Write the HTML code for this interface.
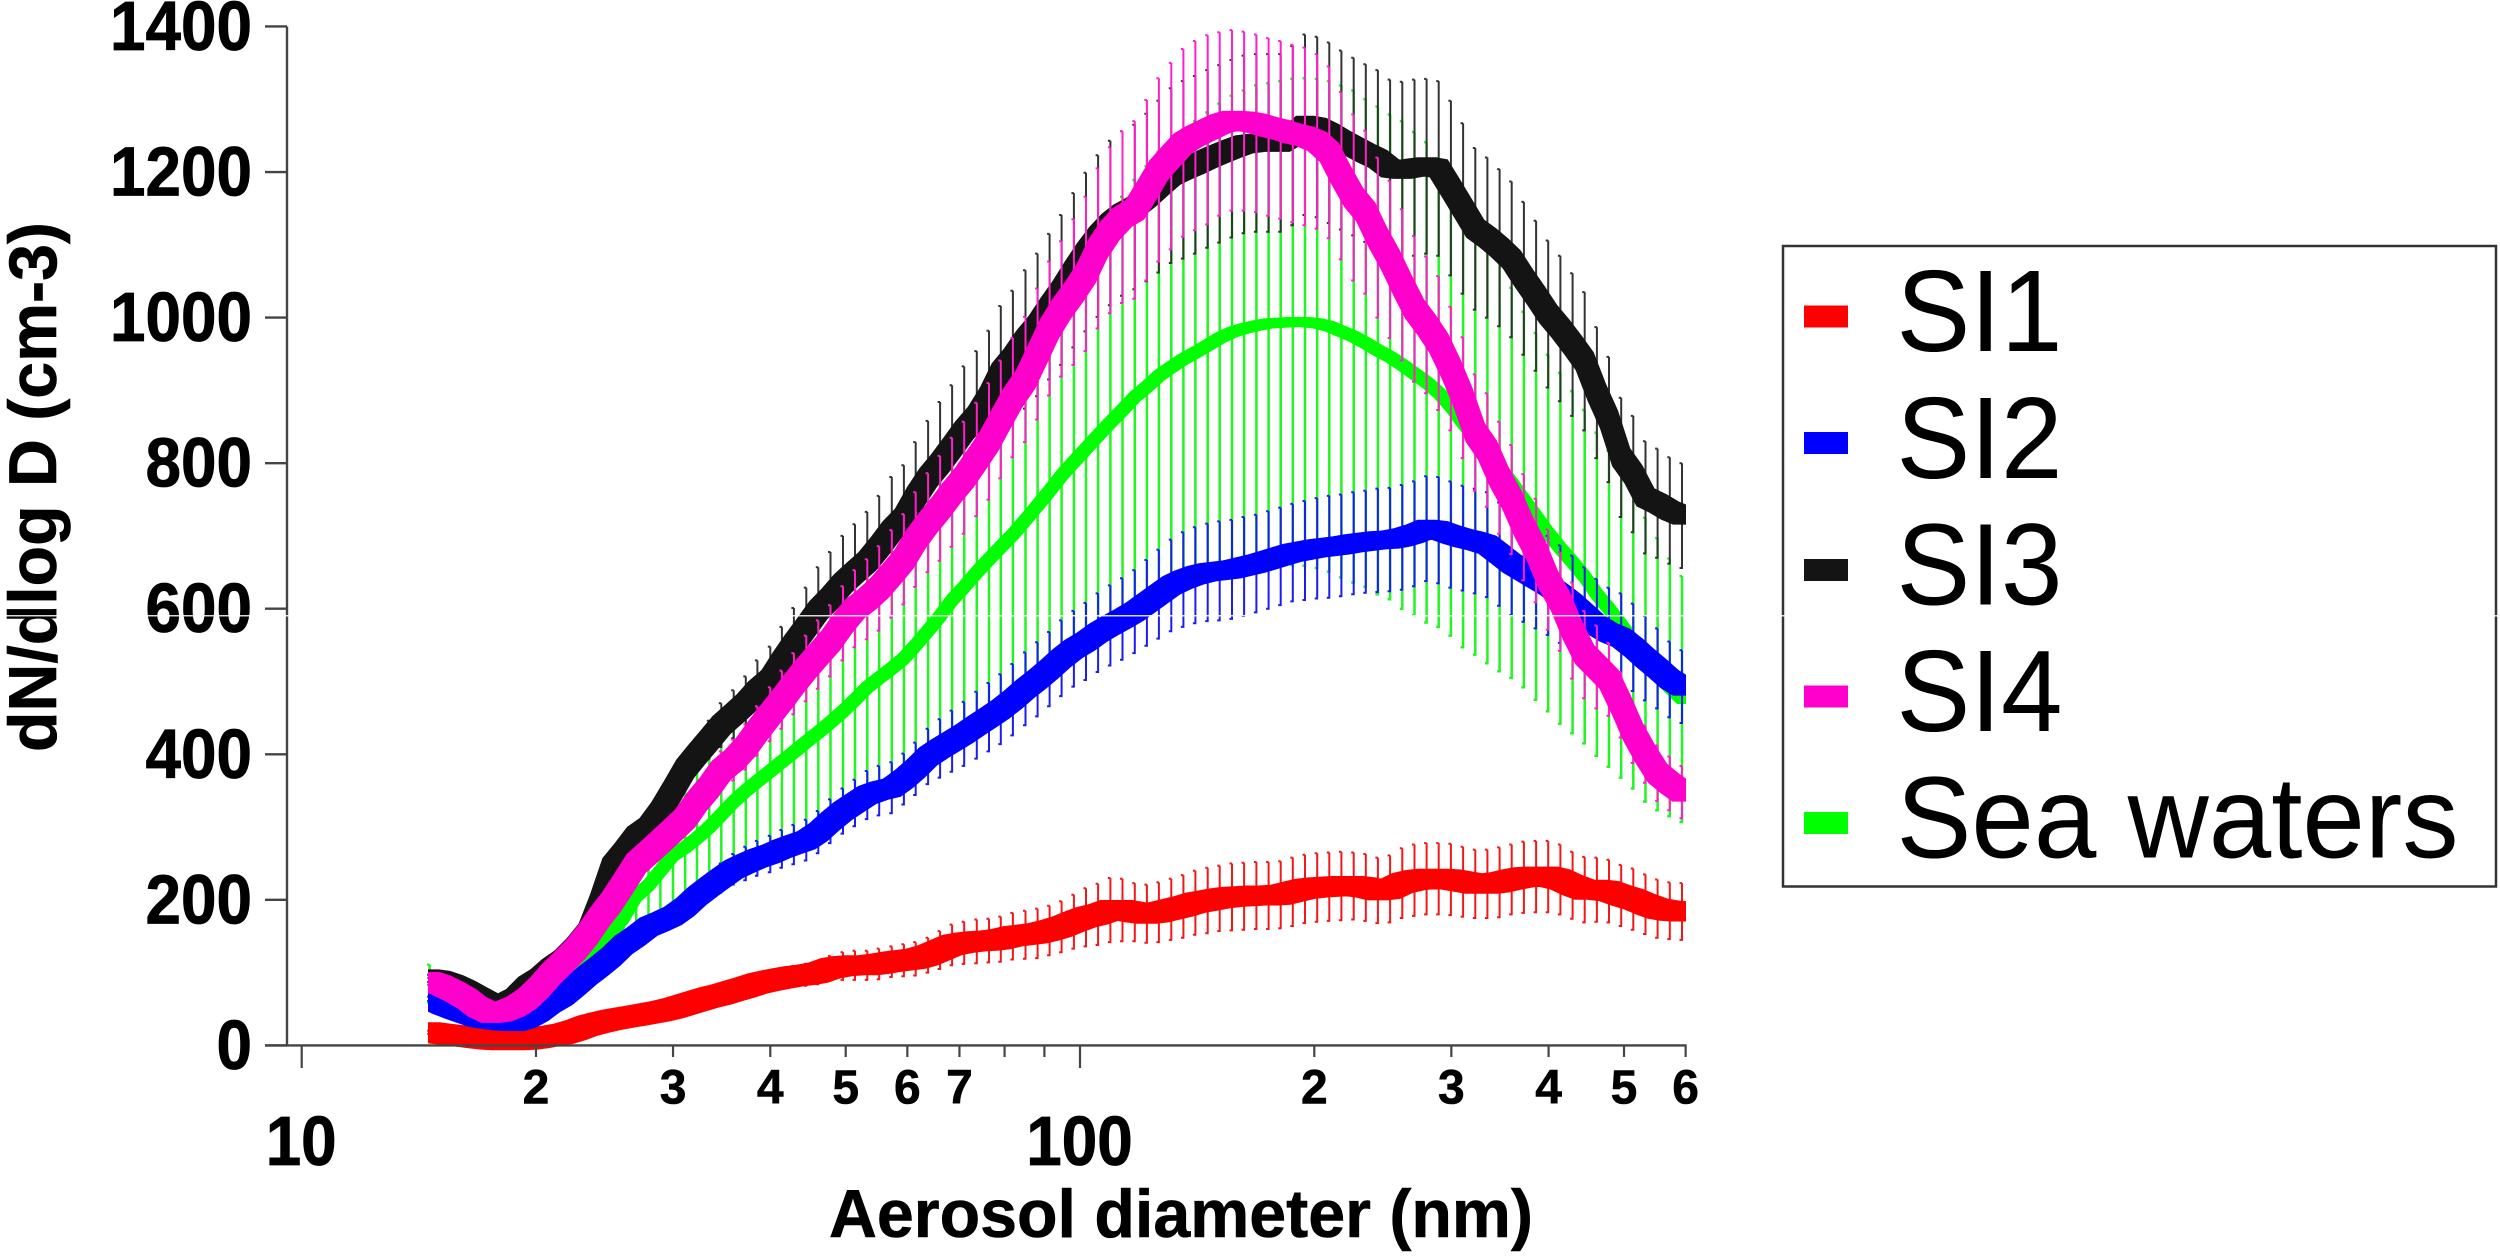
<!DOCTYPE html>
<html lang="en">
<head>
<meta charset="utf-8">
<title>Aerosol size distribution</title>
<style>
html,body{margin:0;padding:0;background:#fff;}
svg{display:block;}
text{font-family:"Liberation Sans",sans-serif;fill:#000;}
</style>
</head>
<body>
<svg id="chart" xmlns="http://www.w3.org/2000/svg" width="2500" height="1257" viewBox="0 0 2500 1257">
  <defs>
    <clipPath id="line-clip"><rect x="428" y="0" width="1258" height="1257"/></clipPath>
  </defs>
  <rect x="0" y="0" width="2500" height="1257" fill="#fff"/>
  <g id="series"></g>
  <g id="axes"></g>
  <text transform="translate(56,487) rotate(-90)" text-anchor="middle" font-weight="700" font-size="68" textLength="530" lengthAdjust="spacingAndGlyphs" stroke="#000" stroke-width="0.6">dN/dlog D (cm-3)</text>
  <text x="1181" y="1237" text-anchor="middle" font-weight="700" font-size="68" textLength="704" lengthAdjust="spacingAndGlyphs" stroke="#000" stroke-width="0.6">Aerosol diameter (nm)</text>
  <g>
    <rect x="1783" y="246" width="713" height="640.5" fill="#fff" stroke="#333" stroke-width="2.5"/>
    <rect x="1804" y="305.5" width="44" height="22" fill="#ff0000"/>
    <text x="1896.5" y="351" font-size="116" textLength="166" lengthAdjust="spacingAndGlyphs">SI1</text>
    <rect x="1804" y="432" width="44" height="22" fill="#0000ff"/>
    <text x="1896.5" y="478" font-size="116" textLength="166" lengthAdjust="spacingAndGlyphs">SI2</text>
    <rect x="1804" y="559" width="44" height="22" fill="#141414"/>
    <text x="1896.5" y="604.5" font-size="116" textLength="166" lengthAdjust="spacingAndGlyphs">SI3</text>
    <rect x="1804" y="685.5" width="44" height="22" fill="#ff00cc"/>
    <text x="1896.5" y="731" font-size="116" textLength="166" lengthAdjust="spacingAndGlyphs">SI4</text>
    <rect x="1804" y="812" width="44" height="22" fill="#00ff00"/>
    <text x="1896.5" y="857.5" font-size="116" textLength="562" lengthAdjust="spacingAndGlyphs">Sea waters</text>
  </g>
  <rect x="0" y="615" width="2500" height="1.5" fill="#fff" opacity="0.85"/>
</svg>
<script>
const diameters = [
14.6,15.1,15.7,16.3,16.8,17.5,18.1,18.8,19.5,20.2,
20.9,21.7,22.5,23.3,24.1,25.0,25.9,26.9,27.9,28.9,
30.0,31.1,32.2,33.4,34.6,35.9,37.2,38.5,40.0,41.4,
42.9,44.5,46.1,47.8,49.6,51.4,53.3,55.2,57.3,59.4,
61.5,63.8,66.1,68.5,71.0,73.7,76.4,79.1,82.0,85.1,
88.2,91.4,94.7,98.2,101.8,105.5,109.4,113.4,117.6,121.9,
126.3,131.0,135.8,140.7,145.9,151.2,156.8,162.5,168.5,174.7,
181.1,187.7,194.6,201.7,209.1,216.7,224.7,232.9,241.4,250.3,
259.5,269.0,278.8,289.0,299.6,310.6,322.0,333.8,346.0,358.7,
371.8,385.5,399.6,414.2,429.4,445.1,461.4,478.3,495.8,514.0,
532.8,552.3,572.5,593.5];

const si1Values = [
18,16,14,12,10,8,7,7,8,10,
13,16,21,27,31,35,38,41,44,47,
51,56,61,66,70,75,80,85,89,92,
95,97,100,106,109,110,110,112,115,117,
119,124,131,138,141,143,144,146,150,152,
154,158,163,170,176,180,186,186,183,181,
183,187,191,196,199,202,204,205,206,206,
207,211,215,217,218,219,219,217,213,215,
223,227,229,229,228,225,222,222,224,228,
231,232,232,228,220,214,214,212,206,201,
194,188,185,184];
const si1Err = [
2,2,2,2,2,2,2,2,2,2,
3,3,3,4,4,4,5,5,6,6,
7,7,8,9,10,10,11,12,13,13,
14,15,16,17,19,20,20,21,21,22,
23,24,26,28,29,30,30,31,32,33,
34,34,35,37,40,42,44,43,40,40,
41,42,43,44,45,45,46,46,46,46,
46,47,47,47,47,47,46,46,45,46,
48,49,49,49,49,48,47,47,48,48,
49,49,49,48,46,45,44,43,42,42,
41,40,39,39];

const si2Values = [
64,56,49,43,38,35,33,32,37,46,
58,68,82,96,108,122,138,150,163,170,
178,190,205,218,230,242,250,257,263,270,
276,282,293,308,322,333,344,350,354,366,
380,397,408,418,428,440,451,462,475,490,
503,517,532,545,555,567,577,586,596,608,
620,632,640,646,650,652,654,658,662,667,
672,677,680,683,685,687,690,692,694,695,
698,703,710,708,702,697,693,688,675,662,
652,642,632,620,607,592,577,567,560,547,
532,518,503,493];
const si2Err = [
3,3,3,3,3,3,3,3,3,3,
3,4,5,6,7,8,9,10,11,12,
14,15,16,18,20,21,23,24,25,26,
27,28,29,30,31,32,33,34,35,35,
36,38,40,42,44,46,47,48,49,50,
51,51,52,52,53,54,55,56,57,59,
61,63,65,66,67,68,68,68,67,67,
67,67,68,69,70,70,70,70,71,71,
72,72,72,73,73,72,72,72,71,71,
70,69,68,67,66,65,64,62,61,60,
58,55,52,50];

const si3Values = [
92,90,84,76,68,58,56,65,82,92,
106,118,135,155,195,245,265,288,300,322,
351,380,400,420,440,455,470,488,503,528,
552,575,598,615,635,650,665,685,708,725,
754,780,800,822,845,865,892,925,945,970,
990,1015,1038,1065,1090,1112,1130,1143,1152,1165,
1180,1195,1203,1210,1218,1225,1232,1238,1240,1240,
1240,1250,1265,1262,1254,1244,1235,1226,1218,1205,
1203,1206,1208,1205,1178,1150,1122,1110,1096,1080,
1054,1030,1005,985,963,940,897,860,808,785,
753,745,735,728];
const si3Err = [
5,5,5,5,5,5,5,5,5,5,
3,4,5,6,6,7,8,9,10,11,
12,16,22,26,30,33,37,41,45,47,
49,54,59,63,65,66,68,70,73,72,
75,78,84,85,88,89,90,91,92,95,
98,100,103,106,109,111,113,113,113,115,
118,120,122,122,122,122,122,122,122,122,
122,123,124,124,124,123,122,122,122,122,
121,121,120,120,120,117,111,110,108,107,
105,103,101,100,98,95,90,86,82,80,
77,75,73,72];

const si4Values = [
88,83,74,64,53,44,46,53,64,80,
98,115,132,152,175,197,222,250,265,280,
296,312,335,355,378,392,410,432,455,475,
497,518,537,556,580,600,613,628,648,668,
695,718,738,760,780,805,830,860,890,915,
950,985,1012,1035,1060,1095,1120,1138,1148,1175,
1203,1222,1240,1250,1258,1266,1271,1270,1267,1262,
1258,1253,1249,1242,1227,1195,1165,1145,1110,1080,
1045,1012,990,965,930,890,842,818,780,750,
712,680,640,610,570,537,520,503,468,430,
400,374,360,348];
const si4Err = [
5,5,5,5,5,5,5,5,5,5,
5,6,7,8,9,10,12,13,15,16,
18,20,22,24,26,28,31,34,37,40,
42,45,47,49,51,53,55,58,60,62,
65,68,72,75,77,78,80,81,82,86,
90,92,93,100,106,110,114,118,122,124,
126,128,129,130,130,126,124,123,122,122,
122,122,122,120,118,115,114,112,110,108,
104,100,94,92,85,83,80,78,77,75,
73,71,69,68,66,60,57,50,45,42,
39,38,37,36];

const seaValues = [
85,78,70,60,50,43,40,42,48,55,
66,80,100,118,137,155,175,205,220,240,
261,272,285,300,317,335,350,363,377,390,
403,417,430,444,459,475,492,505,518,532,
550,570,590,612,630,650,668,685,702,722,
742,762,783,802,820,838,856,873,891,905,
920,932,943,952,962,972,980,985,989,992,
993,994,994,992,988,981,974,965,955,946,
935,923,911,897,878,855,835,815,795,773,
750,727,704,683,664,644,620,600,578,555,
530,510,492,476];
const seaErr = [
26,20,14,10,8,6,5,5,6,8,
12,18,24,30,36,44,52,62,70,78,
85,88,92,97,102,106,112,117,122,127,
132,137,142,148,153,158,163,168,172,176,
180,188,195,203,210,218,226,232,238,244,
252,258,264,270,276,282,288,293,298,303,
308,312,315,318,320,322,325,327,330,330,
332,334,335,336,337,338,338,335,335,333,
335,332,330,322,315,308,298,290,281,268,
258,252,245,241,235,229,222,217,210,202,
195,187,177,169];

const yTickValues = [0,200,400,600,800,1000,1200,1400];
const xMinorValues = [20,30,40,50,60,70,200,300,400,500,600];
const xMinorLabels = ["2","3","4","5","6","7","2","3","4","5","6"];
const xUnlabeledValues = [80,90];
const xMajorValues = [10,100];
const xMajorLabels = ["10","100"];

const NS = 'http://www.w3.org/2000/svg';
function xScale(d){ return 301.7 + 778.3 * Math.log10(d / 10); }
function yScale(v){ return 1045.4 - v * 0.7278; }
function make(parent, tag, attrs, text){
  const el = document.createElementNS(NS, tag);
  for (const k in attrs) el.setAttribute(k, attrs[k]);
  if (text !== undefined) el.textContent = text;
  parent.appendChild(el);
  return el;
}
function f(n){ return n.toFixed(1); }

/* The original line is a square-brush sweep: thick vertically on slopes. */
function sweepSegment(x1, y1, x2, y2, h){
  if (y2 <= y1){
    return 'M' + f(x1-h) + ' ' + f(y1-h) + 'L' + f(x2-h) + ' ' + f(y2-h) + 'L' + f(x2+h) + ' ' + f(y2-h) +
           'L' + f(x2+h) + ' ' + f(y2+h) + 'L' + f(x1+h) + ' ' + f(y1+h) + 'L' + f(x1-h) + ' ' + f(y1+h) + 'Z';
  }
  return 'M' + f(x1-h) + ' ' + f(y1-h) + 'L' + f(x1+h) + ' ' + f(y1-h) + 'L' + f(x2+h) + ' ' + f(y2-h) +
         'L' + f(x2+h) + ' ' + f(y2+h) + 'L' + f(x2-h) + ' ' + f(y2+h) + 'L' + f(x1-h) + ' ' + f(y1+h) + 'Z';
}

const seriesRoot = document.getElementById('series');
function drawSeries(slug, color, barColor, values, errs, brush, barWidth){
  const g = make(seriesRoot, 'g', {});
  
  
  let bars = '';
  let line = '';
  const h = brush / 2;
  for (let i = 0; i < diameters.length; i++){
    const x = xScale(diameters[i]);
    const top = f(yScale(values[i] + errs[i]));
    const bot = f(yScale(values[i] - errs[i]));
    bars += 'M' + f(x) + ' ' + top + 'V' + bot + 'h-2.5M' + f(x) + ' ' + top + 'h-2.5';
    if (i > 0){
      line += sweepSegment(xScale(diameters[i-1]), yScale(values[i-1]), x, yScale(values[i]), h);
    }
  }
  const barPath = make(g, 'path', {d: bars, fill: 'none', stroke: barColor, 'stroke-width': barWidth});
  
  
  const linePath = make(g, 'path', {d: line, fill: color, 'clip-path': 'url(#line-clip)'});
  
  
}
drawSeries('sea-waters', '#00ff00', '#22f522', seaValues, seaErr, 10, 2.5);
drawSeries('si1', '#ff0000', '#f01818', si1Values, si1Err, 20, 2);
drawSeries('si2', '#0000ff', '#1c1cf0', si2Values, si2Err, 18, 2);
drawSeries('si3', '#141414', '#333333', si3Values, si3Err, 18, 2);
drawSeries('si4', '#ff00cc', '#ff20cc', si4Values, si4Err, 19, 2);

const axes = document.getElementById('axes');
const axisColor = '#444444';
const yLine = make(axes, 'line', {x1: 287, y1: yScale(1400), x2: 287, y2: yScale(0), stroke: axisColor, 'stroke-width': 2.4});


const xLine = make(axes, 'line', {x1: 265, y1: yScale(0), x2: xScale(600) + 1, y2: yScale(0), stroke: axisColor, 'stroke-width': 2.4});



yTickValues.forEach(function(v){
  const tick = make(axes, 'line', {x1: 265, y1: yScale(v), x2: 287, y2: yScale(v), stroke: axisColor, 'stroke-width': 2.4});
  
  
  const s = String(v);
  const label = make(axes, 'text', {x: 252, y: yScale(v) + 23.5, 'text-anchor': 'end', 'font-weight': 700, 'font-size': 70, stroke: '#000', 'stroke-width': 0.8, textLength: s.length * 35.5, lengthAdjust: 'spacingAndGlyphs'}, s);
  
  
});

xMinorValues.forEach(function(d, i){
  const tick = make(axes, 'line', {x1: xScale(d), y1: yScale(0), x2: xScale(d), y2: 1057, stroke: axisColor, 'stroke-width': 2.2});
  
  
  const label = make(axes, 'text', {x: xScale(d), y: 1103.5, 'text-anchor': 'middle', 'font-weight': 700, 'font-size': 48, stroke: '#000', 'stroke-width': 0.6}, xMinorLabels[i]);
  
  
});
xUnlabeledValues.forEach(function(d){
  const tick = make(axes, 'line', {x1: xScale(d), y1: yScale(0), x2: xScale(d), y2: 1057, stroke: axisColor, 'stroke-width': 2.2});
  
  
});
xMajorValues.forEach(function(d, i){
  const tick = make(axes, 'line', {x1: xScale(d), y1: yScale(0), x2: xScale(d), y2: 1068, stroke: axisColor, 'stroke-width': 2.2});
  
  
  const s = xMajorLabels[i];
  const label = make(axes, 'text', {x: xScale(d) - 0.5, y: 1165, 'text-anchor': 'middle', 'font-weight': 700, 'font-size': 70, stroke: '#000', 'stroke-width': 0.8, textLength: s.length * 35.5, lengthAdjust: 'spacingAndGlyphs'}, s);
  
  
});
</script>
</body>
</html>
